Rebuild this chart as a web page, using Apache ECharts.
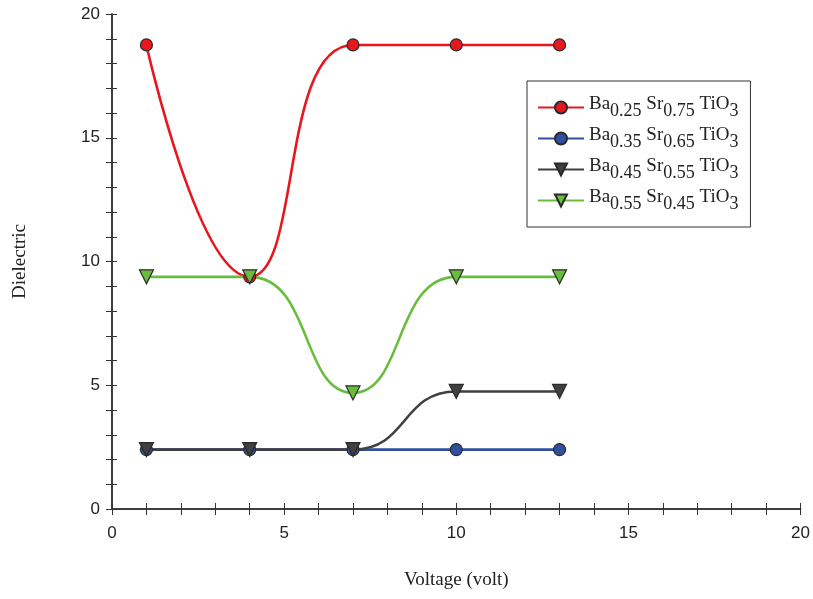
<!DOCTYPE html>
<html>
<head>
<meta charset="utf-8">
<script src="https://cdn.jsdelivr.net/npm/echarts@6/dist/echarts.min.js"></script>
<style>
    html, body { margin: 0; padding: 0; background: #fff; }
    #chart { width: 813px; height: 599px; }
</style>
</head>
<body>
<div id="chart"></div>
<script>
// voltage values (x)
const voltage = [1, 4, 7, 10, 13];
// dielectric values per composition
const ba025 = [18.75, 9.38, 18.75, 18.75, 18.75];
const ba035 = [2.4, 2.4, 2.4, 2.4, 2.4];
const ba045 = [2.4, 2.4, 2.4, 4.75, 4.75];
const ba055 = [9.38, 9.38, 4.69, 9.38, 9.38];
// legend labels and their subscripts [Ba, Sr]
const names = ['Ba0.25 Sr0.75 TiO3', 'Ba0.35 Sr0.65 TiO3', 'Ba0.45 Sr0.55 TiO3', 'Ba0.55 Sr0.45 TiO3'];
const subs = [['0.25', '0.75'], ['0.35', '0.65'], ['0.45', '0.55'], ['0.55', '0.45']];

const serif = '"Liberation Serif", "DejaVu Serif", serif';
const sans = '"Liberation Sans", Arial, sans-serif';
const axisColor = '#333';

function pairs(ys) {
    return voltage.map((x, i) => [x, ys[i]]);
}

function mkSeries(name, ys, color, symbol) {
    return {
        name: name,
        type: 'line',
        data: pairs(ys),
        smooth: 0.5,
        symbol: symbol,
        symbolSize: symbol === 'circle' ? 12 : 14,
        symbolRotate: symbol === 'triangle' ? 180 : 0,
        lineStyle: { color: color, width: 2.6 },
        itemStyle: { color: color, borderColor: '#2a2a2a', borderWidth: 1.2 },
        emphasis: { disabled: true },
        z: 3
    };
}

const chart = echarts.init(document.getElementById('chart'));

const option = {
    animation: false,
    backgroundColor: '#fff',
    grid: { left: 112, right: 12, top: 14, bottom: 90 },
    legend: {
        orient: 'vertical',
        left: 527,
        top: 81,
        padding: [12, 12, 14, 10],
        itemGap: 4,
        itemWidth: 46,
        itemHeight: 15,
        backgroundColor: '#fff',
        borderColor: '#333',
        borderWidth: 1,
        data: names,
        formatter: function (name) {
            const k = names.indexOf(name);
            return '{m|Ba}{s|' + subs[k][0] + '} {m|Sr}{s|' + subs[k][1] + '} {m|TiO}{s|3}';
        },
        textStyle: {
            fontFamily: serif,
            fontSize: 19,
            color: '#222',
            rich: {
                m: { fontFamily: serif, fontSize: 19, color: '#222', verticalAlign: 'top', lineHeight: 25 },
                s: { fontFamily: serif, fontSize: 18, color: '#222', verticalAlign: 'bottom', lineHeight: 25, padding: [9, 0, 0, 0] }
            }
        }
    },
    xAxis: [
        {
            type: 'value', position: 'bottom', min: 0, max: 20, interval: 5,
            name: 'Voltage (volt)', nameLocation: 'middle', nameGap: 62,
            nameTextStyle: { fontFamily: serif, fontSize: 19, color: '#222' },
            axisLine: { show: true, lineStyle: { color: axisColor, width: 1.5 } },
            axisTick: { show: true, inside: false, length: 6, lineStyle: { color: axisColor } },
            axisLabel: { fontFamily: sans, fontSize: 17, color: '#222', margin: 16 },
            splitLine: { show: false }
        },
        {
            type: 'value', position: 'bottom', min: 0, max: 20, interval: 1,
            axisLine: { show: false },
            axisTick: { show: true, inside: true, length: 6, lineStyle: { color: axisColor } },
            axisLabel: { show: false },
            splitLine: { show: false }
        },
        {
            type: 'value', position: 'top', min: 0, max: 20, interval: 1,
            axisLine: { show: true, lineStyle: { color: axisColor, width: 1.5 } },
            axisTick: { show: true, inside: true, length: 6, lineStyle: { color: axisColor } },
            axisLabel: { show: false },
            splitLine: { show: false }
        }
    ],
    yAxis: [
        {
            type: 'value', position: 'left', min: 0, max: 20, interval: 5,
            name: 'Dielectric', nameLocation: 'middle', nameGap: 82, nameRotate: 90,
            nameTextStyle: { fontFamily: serif, fontSize: 19, color: '#222' },
            axisLine: { show: true, lineStyle: { color: axisColor, width: 1.5 } },
            axisTick: { show: true, inside: false, length: 6, lineStyle: { color: axisColor } },
            axisLabel: { fontFamily: sans, fontSize: 17, color: '#222', margin: 12 },
            splitLine: { show: false }
        },
        {
            type: 'value', position: 'left', min: 0, max: 20, interval: 1,
            axisLine: { show: false },
            axisTick: { show: true, inside: true, length: 5, lineStyle: { color: axisColor } },
            axisLabel: { show: false },
            splitLine: { show: false }
        },
        {
            type: 'value', position: 'right', min: 0, max: 20, interval: 1,
            axisLine: { show: true, lineStyle: { color: axisColor, width: 1.5 } },
            axisTick: { show: true, inside: true, length: 6, lineStyle: { color: axisColor } },
            axisLabel: { show: false },
            splitLine: { show: false }
        }
    ],
    series: [
        mkSeries(names[0], ba025, '#e8161d', 'circle'),
        mkSeries(names[1], ba035, '#2f4f9f', 'circle'),
        mkSeries(names[2], ba045, '#404040', 'triangle'),
        mkSeries(names[3], ba055, '#68bd3d', 'triangle')
    ]
};

chart.setOption(option);
</script>
</body>
</html>
